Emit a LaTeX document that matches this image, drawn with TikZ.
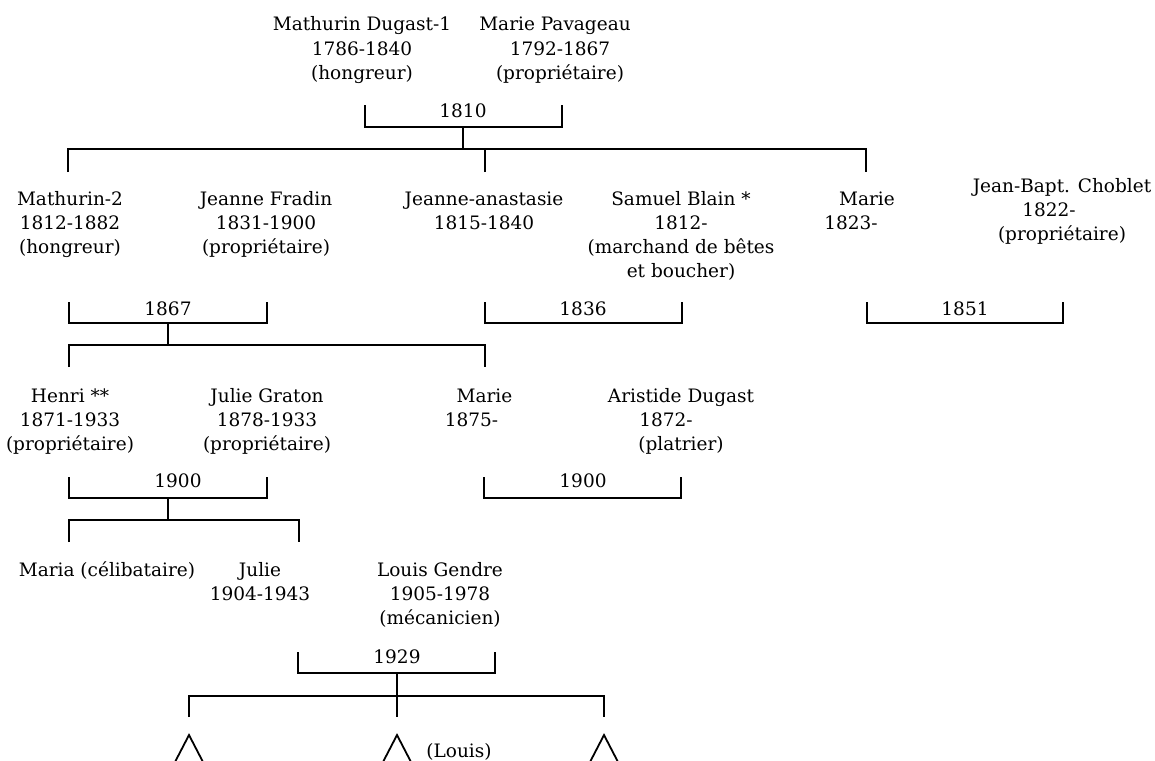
\documentclass[tikz,border=0pt]{standalone}
\usepackage{fontspec}
\setmainfont{DejaVu Serif}
\usetikzlibrary{calc}
\newcommand{\famfont}{\fontsize{18.5}{24}\selectfont}
\newcommand{\shiftln}[1]{\hspace*{#1pt}}
\tikzset{
  person/.style={align=center, anchor=base, inner sep=0pt, font=\famfont},
  yearlbl/.style={anchor=base, inner sep=0pt, font=\famfont},
  bar/.style={line width=1.8pt},
}
\newcommand{\wedbar}[3]{%
  \draw[bar] (#1) |- (#3) -| (#2);
}

\begin{document}
\begin{tikzpicture}[x=1pt, y=-1pt]
    \useasboundingbox (0,0) rectangle (1155,760);
    % generation 1 (nodes sit on the baseline of their last line)
    \node[person] (dugast) at (362,79) {Mathurin Dugast-1\\1786-1840\\(hongreur)};
    \node[person] (pavageau) at (560,79) {\shiftln{-10}Marie Pavageau\\1792-1867\\(propriétaire)};
    \coordinate (w1a) at (365,105);
    \coordinate (w1b) at (562,105);
    \coordinate (w1) at (463,127);
    \wedbar{w1a}{w1b}{w1}
    \node[yearlbl] (y1810) at (463,117) {1810};
    % children of 1810
    \coordinate (r1) at (463,149);
    \coordinate (k1a) at (68,172);
    \coordinate (k1b) at (485,172);
    \coordinate (k1c) at (866,172);
    \draw[bar] (w1) -- (r1);
    \draw[bar] (k1a) |- (r1) -| (k1c);
    \draw[bar] (k1b) -- (k1b |- r1);
    % generation 2
    \node[person] (mathurin) at (70,253) {Mathurin-2\\1812-1882\\(hongreur)};
    \node[person] (fradin) at (266,253) {Jeanne Fradin\\1831-1900\\(propriétaire)};
    \node[person] (anastasie) at (484,229) {Jeanne-anastasie\\1815-1840};
    \node[person] (blain) at (681,277) {Samuel Blain *\\1812-\\(marchand de bêtes\\et boucher)};
    \node[person] (marieA) at (859,229) {\shiftln{16}Marie\\\shiftln{-16}1823-};
    \node[person] (choblet) at (1062,240) {Jean-Bapt. Choblet\\\shiftln{-26}1822-\\(propriétaire)};
    % marriages of generation 2
    \coordinate (w2a) at (69,302);
    \coordinate (w2b) at (267,302);
    \coordinate (w2) at (168,323);
    \wedbar{w2a}{w2b}{w2}
    \node[yearlbl] (y1867) at (168,315) {1867};
    \coordinate (w3a) at (485,302);
    \coordinate (w3b) at (682,302);
    \coordinate (w3) at (583,323);
    \wedbar{w3a}{w3b}{w3}
    \node[yearlbl] (y1836) at (583,315) {1836};
    \coordinate (w4a) at (867,302);
    \coordinate (w4b) at (1063,302);
    \coordinate (w4) at (965,323);
    \wedbar{w4a}{w4b}{w4}
    \node[yearlbl] (y1851) at (965,315) {1851};
    % children of 1867
    \coordinate (r2) at (168,345);
    \coordinate (k2a) at (69,367);
    \coordinate (k2b) at (485,367);
    \draw[bar] (w2) -- (r2);
    \draw[bar] (k2a) |- (r2) -| (k2b);
    % generation 3
    \node[person] (henri) at (70,450) {Henri **\\1871-1933\\(propriétaire)};
    \node[person] (graton) at (267,450) {Julie Graton\\1878-1933\\(propriétaire)};
    \node[person] (marieB) at (478,426) {\shiftln{13}Marie\\\shiftln{-13}1875-};
    \node[person] (aristide) at (681,450) {Aristide Dugast\\\shiftln{-30}1872-\\(platrier)};
    \coordinate (w5a) at (69,477);
    \coordinate (w5b) at (267,477);
    \coordinate (w5) at (168,498);
    \wedbar{w5a}{w5b}{w5}
    \node[yearlbl] (y1900a) at (178,487) {1900};
    \coordinate (w6a) at (484,477);
    \coordinate (w6b) at (681,477);
    \coordinate (w6) at (583,498);
    \wedbar{w6a}{w6b}{w6}
    \node[yearlbl] (y1900b) at (583,487) {1900};
    % children of 1900
    \coordinate (r3) at (168,520);
    \coordinate (k3a) at (69,542);
    \coordinate (k3b) at (299,542);
    \draw[bar] (w5) -- (r3);
    \draw[bar] (k3a) |- (r3) -| (k3b);
    % generation 4
    \node[person] (maria) at (107,576) {Maria (célibataire)};
    \node[person] (julie) at (260,600) {Julie\\1904-1943};
    \node[person] (gendre) at (440,624) {Louis Gendre\\1905-1978\\(mécanicien)};
    \coordinate (w7a) at (298,652);
    \coordinate (w7b) at (495,652);
    \coordinate (w7) at (397,673);
    \wedbar{w7a}{w7b}{w7}
    \node[yearlbl] (y1929) at (397,663) {1929};
    % children of 1929
    \coordinate (r4) at (397,696);
    \coordinate (k4a) at (189,717);
    \coordinate (k4b) at (397,717);
    \coordinate (k4c) at (604,717);
    \draw[bar] (w7) -- (k4b);
    \draw[bar] (k4a) |- (r4) -| (k4c);
    \foreach \x in {189,397,604}
      \draw[bar] (\x-14,762) -- (\x,735) -- (\x+14,762);
    \node[yearlbl] (louis) at (459,757) {(Louis)};
\end{tikzpicture}
\end{document}
